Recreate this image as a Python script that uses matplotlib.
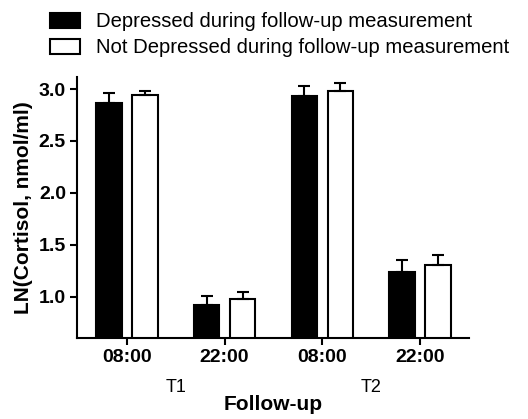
import numpy as np
import matplotlib
matplotlib.use('Agg')
import matplotlib.pyplot as plt
from matplotlib.patches import Patch

plt.rcParams['font.family'] = ['Liberation Sans', 'DejaVu Sans']

# Data
times = ['08:00', '22:00', '08:00', '22:00']
periods = ['T1', 'T2']
depressed = [2.87, 0.92, 2.93, 1.24]
depressed_err = [0.09, 0.09, 0.10, 0.11]
not_depressed = [2.94, 0.98, 2.98, 1.30]
not_depressed_err = [0.04, 0.06, 0.08, 0.10]

fig = plt.figure(figsize=(5.28, 4.19), dpi=100)
ax = fig.add_axes([0.146, 0.193, 0.742, 0.623])

x = np.arange(len(times))
w = 0.26
off = 0.185
ax.bar(x - off, depressed, w, color='black', edgecolor='black', linewidth=1.5,
       yerr=[np.zeros(4), depressed_err], capsize=4.5,
       error_kw=dict(elinewidth=1.5, capthick=1.5, ecolor='black'))
ax.bar(x + off, not_depressed, w, color='white', edgecolor='black', linewidth=1.5,
       yerr=[np.zeros(4), not_depressed_err], capsize=4.5,
       error_kw=dict(elinewidth=1.5, capthick=1.5, ecolor='black'))

ax.set_xlim(-0.51, 3.5)
ax.set_ylim(0.6, 3.115)
ax.set_yticks([1.0, 1.5, 2.0, 2.5, 3.0])
ax.set_yticklabels(['1.0', '1.5', '2.0', '2.5', '3.0'], fontweight='bold', fontsize=14)
ax.set_xticks(x)
ax.set_xticklabels(times, fontweight='bold', fontsize=14)
ax.tick_params(width=1.5, length=5, pad=3)

for s in ['top', 'right']:
    ax.spines[s].set_visible(False)
for s in ['left', 'bottom']:
    ax.spines[s].set_linewidth(1.5)

ax.set_ylabel('LN(Cortisol, nmol/ml)', fontweight='bold', fontsize=15, labelpad=4)
ax.set_xlabel('Follow-up', fontweight='bold', fontsize=15, labelpad=21)

trans = matplotlib.transforms.blended_transform_factory(ax.transData, ax.transAxes)
for i, p in enumerate(periods):
    ax.text(2 * i + 0.5, -0.19, p, transform=trans, ha='center', va='center', fontsize=13)

handles = [Patch(facecolor='black', edgecolor='black', linewidth=1.5),
           Patch(facecolor='white', edgecolor='black', linewidth=1.5)]
fig.legend(handles, ['Depressed during follow-up measurement',
                     'Not Depressed during follow-up measurement'],
           loc='upper left', bbox_to_anchor=(0.08, 0.99), frameon=False,
           fontsize=14.6, handlelength=1.45, handleheight=0.75, handletextpad=0.8,
           labelspacing=0.35, borderaxespad=0)

fig.savefig('out.png', dpi=100)
